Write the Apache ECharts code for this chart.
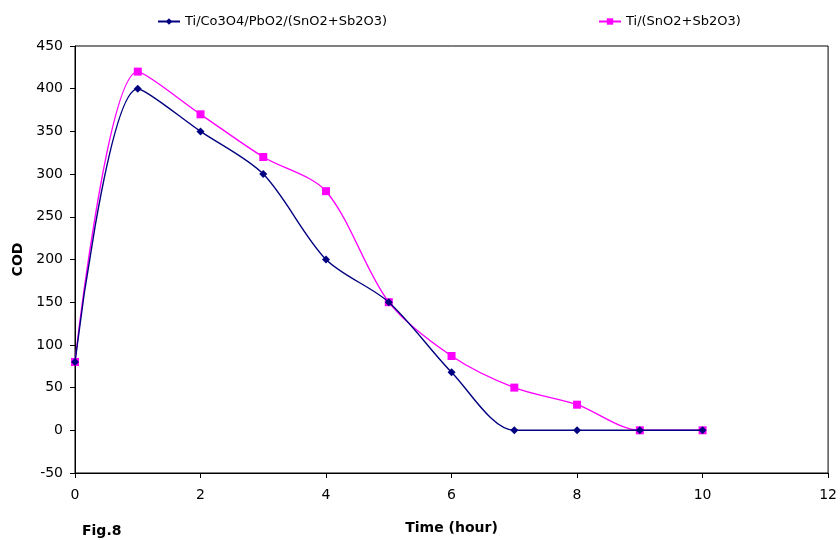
<!DOCTYPE html>
<html><head><meta charset="utf-8">
<script src="https://cdn.jsdelivr.net/npm/echarts@6/dist/echarts.min.js"></script>
<style>html,body{margin:0;padding:0;background:#fff}#c{width:840px;height:540px}</style>
</head><body><div id="c"></div>
<script>
var hours = [0,1,2,3,4,5,6,7,8,9,10];
var seriesA = [80,400,350,300,200,150,68,0,0,0,0];
var seriesB = [80,420,370,320,280,150,87,50,30,0,0];
var nameA = 'Ti/Co3O4/PbO2/(SnO2+Sb2O3)';
var nameB = 'Ti/(SnO2+Sb2O3)';
var xTicks = {min:0, max:12, interval:2};
var yTicks = {min:-50, max:450, interval:50};
function pairs(xs, ys){ return xs.map(function(x,i){return [x, ys[i]];}); }
var font = '"DejaVu Sans", sans-serif';
var chart = echarts.init(document.getElementById('c'));
chart.setOption({
  animation:false,
  backgroundColor:'#fff',
  legend:[
    {data:[nameA], left:152, top:10, itemWidth:22, itemHeight:8, textStyle:{fontFamily:font,fontSize:13,color:'#000'}},
    {data:[nameB], left:593, top:10, itemWidth:22, itemHeight:8, textStyle:{fontFamily:font,fontSize:13,color:'#000'}}
  ],
  grid:{left:75, top:46, right:11, bottom:66, containLabel:false, show:true, borderColor:'#000', borderWidth:1, backgroundColor:'transparent'},
  xAxis:{type:'value', min:xTicks.min, max:xTicks.max, interval:xTicks.interval, name:'Time (hour)', nameLocation:'middle', nameGap:48,
    nameTextStyle:{fontFamily:font,fontSize:14,fontWeight:'bold',color:'#000'},
    axisLine:{onZero:false, lineStyle:{color:'#000',width:1}}, axisTick:{show:true,length:5,lineStyle:{color:'#000'}},
    axisLabel:{fontFamily:font,fontSize:14,color:'#000',margin:15}, splitLine:{show:false}},
  yAxis:{type:'value', min:yTicks.min, max:yTicks.max, interval:yTicks.interval, name:'COD', nameLocation:'middle', nameGap:50, nameRotate:90,
    nameTextStyle:{fontFamily:font,fontSize:14,fontWeight:'bold',color:'#000'},
    axisLine:{show:true, lineStyle:{color:'#000',width:1}}, axisTick:{show:true,length:5,lineStyle:{color:'#000'}},
    axisLabel:{fontFamily:font,fontSize:14,color:'#000',margin:12}, splitLine:{show:false}},
  graphic:[{type:'text', left:82, top:524, style:{text:'Fig.8', font:'bold 14px "DejaVu Sans", sans-serif', fill:'#000'}}],
  series:[
    {name:nameA, type:'line', data:pairs(hours, seriesA), smooth:0.3, symbol:'diamond', symbolSize:8,
     itemStyle:{color:'#000080'}, lineStyle:{color:'#000080', width:1.4}, z:3},
    {name:nameB, type:'line', data:pairs(hours, seriesB), smooth:0.3, symbol:'rect', symbolSize:8,
     itemStyle:{color:'#FF00FF'}, lineStyle:{color:'#FF00FF', width:1.4}, z:2}
  ]
});
</script></body></html>
